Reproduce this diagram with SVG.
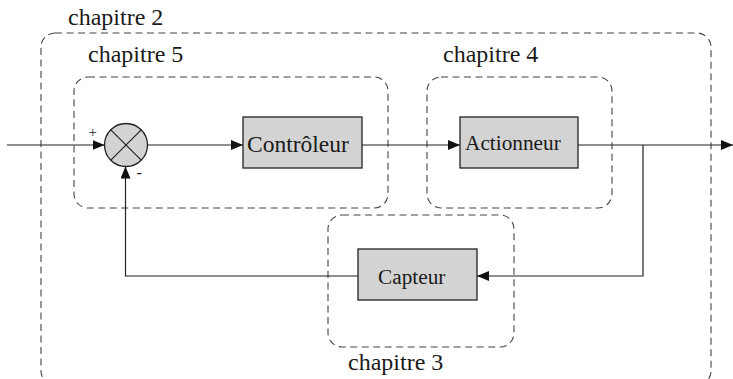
<svg xmlns="http://www.w3.org/2000/svg" width="733" height="379" viewBox="0 0 733 379">
  <style>
    .zone { fill: none; stroke: #444; stroke-width: 1.1; stroke-dasharray: 7 4.5; }
    .block { fill: #d3d3d3; stroke: #222; stroke-width: 1.3; }
    .wire { fill: none; stroke: #222; stroke-width: 1.2; }
    .lbl { font-family: "Liberation Serif", "Times New Roman", serif; fill: #1a1a1a; }
  </style>
  <defs>
    <marker id="arrow" viewBox="0 0 12 10" refX="12" refY="5" markerWidth="12" markerHeight="10" markerUnits="userSpaceOnUse" orient="auto">
      <path d="M0,0 L12,5 L0,10 Z" fill="#111"/>
    </marker>
  </defs>

  <!-- chapter zones -->
  <g id="zone-chapitre2">
    <rect class="zone" x="41" y="33" width="670" height="352" rx="14"/>
    <text class="lbl" x="68" y="25" font-size="24">chapitre 2</text>
  </g>
  <g id="zone-chapitre5">
    <rect class="zone" x="74" y="77" width="314" height="131" rx="14"/>
    <text class="lbl" x="88" y="62" font-size="24">chapitre 5</text>
  </g>
  <g id="zone-chapitre4">
    <rect class="zone" x="427" y="77" width="185" height="131" rx="14"/>
    <text class="lbl" x="443" y="62" font-size="24">chapitre 4</text>
  </g>
  <g id="zone-chapitre3">
    <rect class="zone" x="328" y="215" width="186" height="132" rx="14"/>
    <text class="lbl" x="348" y="370" font-size="24">chapitre 3</text>
  </g>

  <!-- signal connectors -->
  <g id="connectors">
    <line class="wire" x1="7" y1="145" x2="104.5" y2="145" marker-end="url(#arrow)"/>
    <line class="wire" x1="147.5" y1="145" x2="243" y2="145" marker-end="url(#arrow)"/>
    <line class="wire" x1="362" y1="145" x2="460" y2="145" marker-end="url(#arrow)"/>
    <line class="wire" x1="578" y1="145" x2="733" y2="145" marker-end="url(#arrow)"/>
    <polyline class="wire" points="643,145 643,276 477,276" marker-end="url(#arrow)"/>
    <polyline class="wire" points="358,276 125.5,276 125.5,166.5" marker-end="url(#arrow)"/>
  </g>

  <!-- summing junction -->
  <g id="comparateur">
    <circle class="block" cx="126" cy="145" r="21.5"/>
    <line class="wire" x1="110.8" y1="129.8" x2="141.2" y2="160.2"/>
    <line class="wire" x1="141.2" y1="129.8" x2="110.8" y2="160.2"/>
    <text class="lbl" x="88.5" y="137" font-size="15">+</text>
    <text class="lbl" x="136.5" y="178" font-size="16">-</text>
  </g>

  <g id="controleur">
    <rect class="block" x="243" y="117" width="119" height="51"/>
    <text class="lbl" x="247" y="152" font-size="23.5">Contrôleur</text>
  </g>
  <g id="actionneur">
    <rect class="block" x="460" y="117" width="118" height="51"/>
    <text class="lbl" x="465" y="150" font-size="21.3">Actionneur</text>
  </g>
  <g id="capteur">
    <rect class="block" x="358" y="249" width="119" height="51"/>
    <text class="lbl" x="378" y="284" font-size="21.3">Capteur</text>
  </g>
</svg>
